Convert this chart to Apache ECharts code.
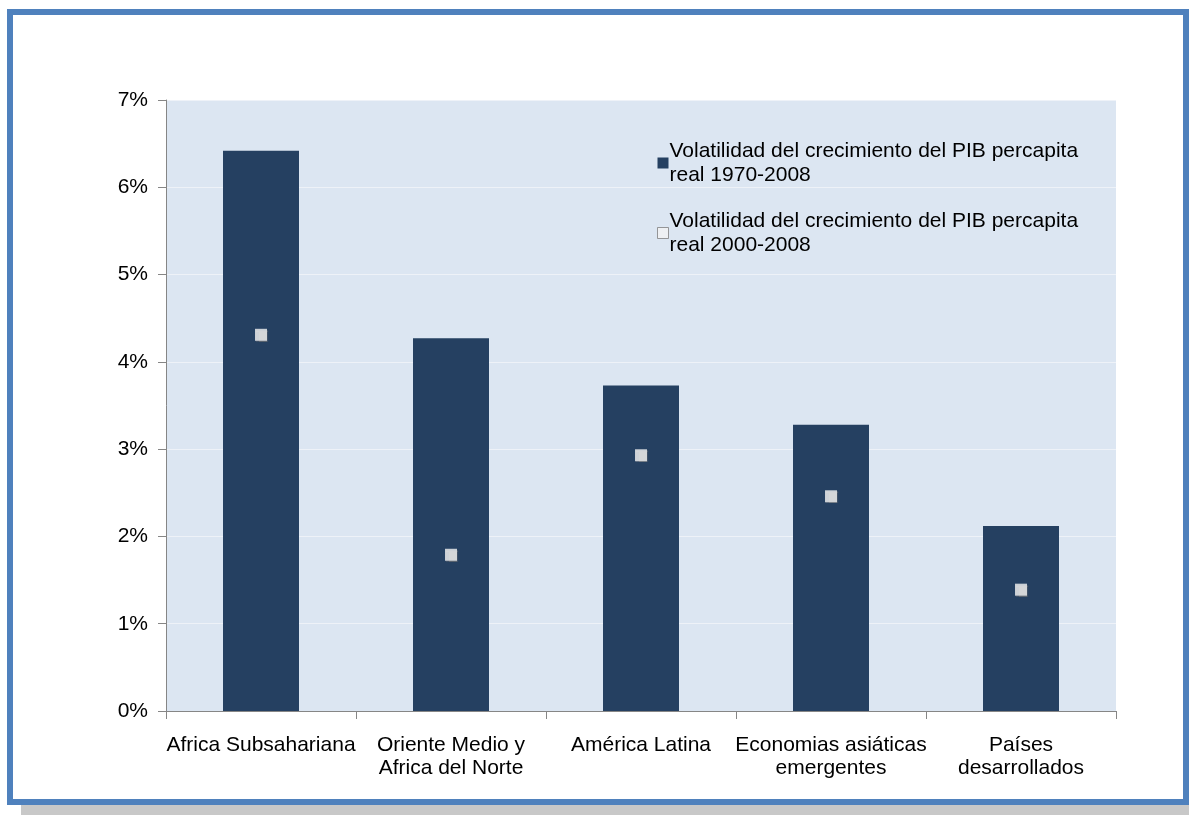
<!DOCTYPE html>
<html>
<head>
<meta charset="utf-8">
<script src="https://cdn.jsdelivr.net/npm/echarts@6/dist/echarts.min.js"></script>
<style>
  html, body { margin: 0; padding: 0; background: #fff; }
  #frame {
    position: absolute; left: 7px; top: 9px; width: 1182px; height: 796px;
    box-sizing: border-box; border: 6px solid #4f81bd;
    box-shadow: 14px 10px 0 #c8c8c8;
  }
  #chart { position: absolute; left: 0; top: 0; width: 1189px; height: 815px; }
</style>
</head>
<body>
<div id="frame"></div>
<div id="chart"></div>
<script>
const categories = ['Africa Subsahariana', 'Oriente Medio y\nAfrica del Norte', 'América Latina', 'Economias asiáticas\nemergentes', 'Países\ndesarrollados']
const vol19702008 = [6.42, 4.27, 3.73, 3.28, 2.12]
const vol20002008 = [4.31, 1.79, 2.93, 2.46, 1.39]
const yTicks = [0, 1, 2, 3, 4, 5, 6, 7]

const labelFont = {
  color: '#000',
  fontSize: 21,
  fontFamily: 'Liberation Sans, Arial, sans-serif'
}

const chart = echarts.init(document.getElementById('chart'))
chart.setOption({
  animation: false,
  grid: {
    show: true,
    left: 166,
    right: 73,
    top: 100,
    bottom: 104,
    backgroundColor: '#dce6f2',
    borderWidth: 0
  },
  legend: {
    orient: 'vertical',
    left: 652,
    top: 134,
    itemWidth: 11,
    itemHeight: 11,
    itemGap: 22,
    textStyle: {
      color: '#000',
      fontSize: 21,
      lineHeight: 24,
      fontFamily: 'Liberation Sans, Arial, sans-serif',
      padding: [0, 0, 0, -4]
    },
    data: [
      { name: 'Volatilidad del crecimiento del PIB percapita\nreal 1970-2008', icon: 'rect' },
      { name: 'Volatilidad del crecimiento del PIB percapita\nreal 2000-2008', icon: 'rect', itemStyle: { color: '#f2f2f2', borderColor: '#7f7f7f', borderWidth: 1 } }
    ]
  },
  xAxis: {
    type: 'category',
    data: categories,
    axisLine: { lineStyle: { color: '#868686' } },
    axisTick: { show: true, length: 8, lineStyle: { color: '#868686' } },
    axisLabel: Object.assign({ margin: 23, lineHeight: 23, interval: 0 }, labelFont),
    splitLine: { show: false }
  },
  yAxis: {
    type: 'value',
    min: 0,
    max: yTicks[yTicks.length - 1],
    interval: 1,
    axisLine: { show: true, lineStyle: { color: '#868686' } },
    axisTick: { show: true, length: 8, lineStyle: { color: '#868686' } },
    axisLabel: Object.assign({ margin: 18, formatter: '{value}%' }, labelFont),
    splitLine: { show: true, lineStyle: { color: '#eef2f8', width: 1 } }
  },
  series: [
    {
      name: 'Volatilidad del crecimiento del PIB percapita\nreal 1970-2008',
      type: 'bar',
      data: vol19702008,
      barWidth: '40%',
      itemStyle: { color: '#254061' }
    },
    {
      name: 'Volatilidad del crecimiento del PIB percapita\nreal 2000-2008',
      type: 'scatter',
      data: vol20002008,
      symbol: 'rect',
      symbolSize: 12,
      itemStyle: {
        color: '#f2f2f2',
        shadowColor: 'rgba(120,120,120,0.8)',
        shadowOffsetX: 1,
        shadowOffsetY: 1,
        shadowBlur: 1
      }
    }
  ]
})
</script>
</body>
</html>
